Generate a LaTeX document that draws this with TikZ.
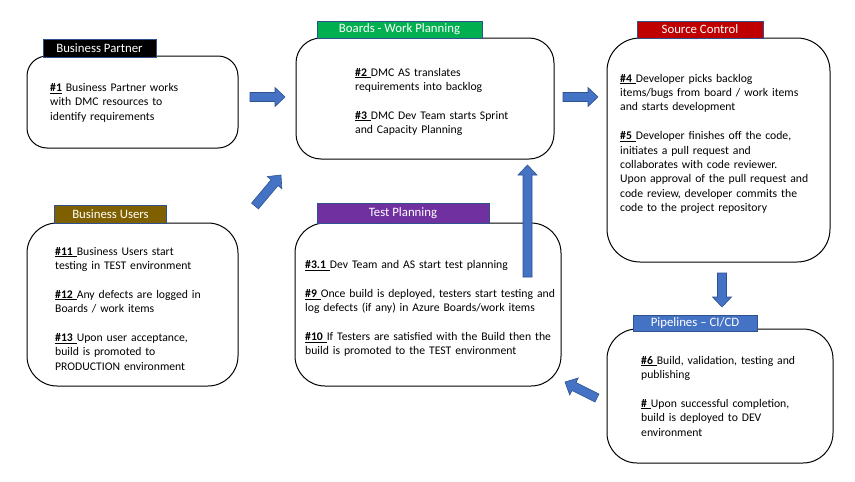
\documentclass[tikz,border=0pt]{standalone}
\usepackage{fontspec}
\setmainfont{Carlito}
\usetikzlibrary{calc}
\definecolor{arrblue}{HTML}{4472C4}
\definecolor{arredge}{HTML}{2F528F}
\definecolor{boardgreen}{HTML}{00B050}
\definecolor{srcred}{HTML}{C00000}
\definecolor{userbrown}{HTML}{7F6000}
\definecolor{testpurple}{HTML}{7030A0}
\newcommand\stepno[1]{\underline{\textbf{#1}}}
\newcommand\parskipline{\\[14.4pt]}
\newcommand\blockarrow[2]{%
  \draw[blockarr] let \p1=(#1), \p2=(#2),
    \n1={atan2(\y2-\y1,\x2-\x1)}, \n2={veclen(\x2-\x1,\y2-\y1)} in
    {[shift={(\p1)}, rotate=\n1]
     (0pt,-4.5pt) -- ({\n2*1pt-10pt},-4.5pt) -- ({\n2*1pt-10pt},-9.5pt) -- ({\n2*1pt},0pt)
     -- ({\n2*1pt-10pt},9.5pt) -- ({\n2*1pt-10pt},4.5pt) -- (0pt,4.5pt) -- cycle};
}
\tikzset{
  stagebox/.style={draw=black, line width=1pt, fill=white, inner sep=0pt},
  stagelabel/.style={draw=arredge, line width=0.8pt, fill=#1, text=white, inner sep=0pt,
    font=\fontsize{12.8}{14}\selectfont},
  steptext/.style={anchor=base west, inner sep=0pt, align=left, text width=300pt,
    font=\fontsize{11.7}{14.4}\selectfont},
  blockarr/.style={fill=arrblue, draw=arredge, line width=0.6pt, line join=miter},
}
\begin{document}
\begin{tikzpicture}[x=1pt, y=-1pt]
\useasboundingbox[fill=white] (0,0) rectangle (855,482);

% boxes
\node[stagebox, rounded corners=20pt, minimum width=211pt, minimum height=92pt] (bp) at (132.5,102) {};
\node[stagebox, rounded corners=25pt, minimum width=258pt, minimum height=121pt] (wp) at (425,98.5) {};
\node[stagebox, rounded corners=33pt, minimum width=223pt, minimum height=224pt] (sc) at (718.5,150) {};
\node[stagebox, rounded corners=30pt, minimum width=211pt, minimum height=163pt] (bu) at (132.5,304.5) {};
\node[stagebox, rounded corners=30pt, minimum width=266pt, minimum height=163pt] (tp) at (428,304.5) {};
\node[stagebox, rounded corners=30pt, minimum width=226pt, minimum height=134pt] (pl) at (720,396) {};

% labels
\node[stagelabel=black, minimum width=113pt, minimum height=18pt] (bpl) at (99.5,48) {Business Partner};
\node[stagelabel=boardgreen, minimum width=165pt, minimum height=17pt] (wpl) at (399.5,29.5) {Boards - Work Planning};
\node[stagelabel=srcred, minimum width=126pt, minimum height=17pt] (scl) at (700,29.5) {Source Control};
\node[stagelabel=userbrown, minimum width=112pt, minimum height=18pt] (bul) at (110.5,214) {Business Users};
\node[stagelabel=testpurple, minimum width=172pt, minimum height=20pt] (tpl) at (403,213) {Test Planning};
\node[stagelabel=arrblue, minimum width=124pt, minimum height=16pt] (pll) at (695,323) {Pipelines – CI/CD};

% texts
\node[steptext] (bpt) at (50,91.5) {\stepno{\#1} Business Partner works\\with DMC resources to\\identify requirements};
\node[steptext] (wpt) at (355,76) {\stepno{\#2 }DMC AS translates\\requirements into backlog\parskipline
\stepno{\#3 }DMC Dev Team starts Sprint\\and Capacity Planning};
\node[steptext] (sct) at (620,82) {\stepno{\#4 }Developer picks backlog\\items/bugs from board / work items\\and starts development\parskipline
\stepno{\#5 }Developer finishes off the code,\\initiates a pull request and\\collaborates with code reviewer.\\Upon approval of the pull request and\\code review, developer commits the\\code to the project repository};
\node[steptext] (but) at (55,255) {\stepno{\#11 }Business Users start\\testing in TEST environment\parskipline
\stepno{\#12 }Any defects are logged in\\Boards / work items\parskipline
\stepno{\#13 }Upon user acceptance,\\build is promoted to\\PRODUCTION environment};
\node[steptext] (tpt) at (305,268.5) {\stepno{\#3.1 }Dev Team and AS start test planning\parskipline
\stepno{\#9 }Once build is deployed, testers start testing and\\log defects (if any) in Azure Boards/work items\parskipline
\stepno{\#10 }If Testers are satisfied with the Build then the\\build is promoted to the TEST environment};
\node[steptext] (plt) at (641,364) {\stepno{\#6 }Build, validation, testing and\\publishing\parskipline
\stepno{\# }Upon successful completion,\\build is deployed to DEV\\environment};

% arrow end points
\coordinate (a1t) at (250,97);   \coordinate (a1h) at (285,97);
\coordinate (a2t) at (563,97);   \coordinate (a2h) at (598,97);
\coordinate (a3t) at (527.5,277); \coordinate (a3h) at (527.5,165);
\coordinate (a4t) at (722,273);  \coordinate (a4h) at (722,307);
\coordinate (a5t) at (255,206);  \coordinate (a5h) at (281,175);
\coordinate (a6t) at (597,398);  \coordinate (a6h) at (565,382);

\blockarrow{a1t}{a1h}
\blockarrow{a2t}{a2h}
\blockarrow{a3t}{a3h}
\blockarrow{a4t}{a4h}
\blockarrow{a5t}{a5h}
\blockarrow{a6t}{a6h}
\end{tikzpicture}
\end{document}
